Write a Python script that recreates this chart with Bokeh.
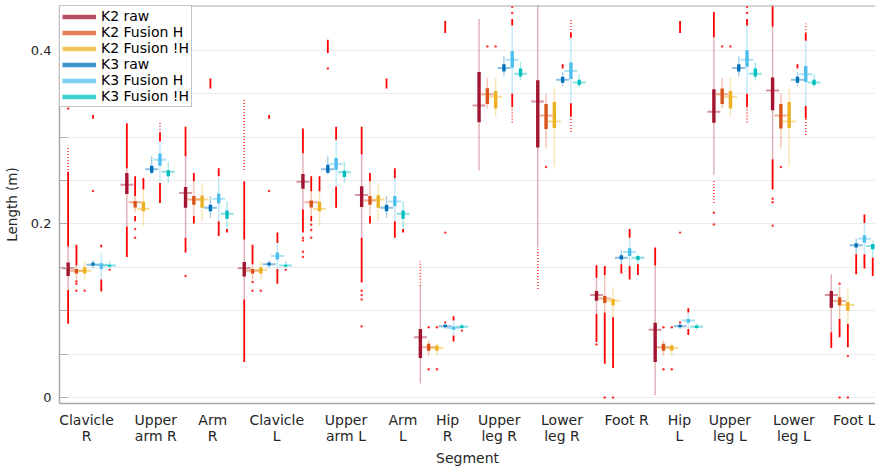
from bokeh.plotting import figure
from bokeh.models import FixedTicker, Range1d, Legend, LegendItem, Span
from bokeh.embed import file_html
from bokeh.resources import INLINE

# ---------------- data ----------------
SEGMENTS = ["Clavicle\nR", "Upper\narm R", "Arm\nR", "Clavicle\nL", "Upper\narm L", "Arm\nL",
            "Hip\nR", "Upper\nleg R", "Lower\nleg R", "Foot R", "Hip\nL", "Upper\nleg L",
            "Lower\nleg L", "Foot L"]
SERIES = ["K2 raw", "K2 Fusion H", "K2 Fusion !H", "K3 raw", "K3 Fusion H", "K3 Fusion !H"]
X_TITLE = "Segment"
Y_TITLE = "Length (m)"

K2_RAW_Q1 = [.140, .2345, .2185, .1394, .2406, .2196, .0455, .317, .288, .1115, .041, .3166, .331, .1035]
K2_RAW_Q3 = [.1555, .2586, .2425, .156, .2575, .2433, .079, .375, .3655, .1226, .086, .355, .3686, .1226]
K2_RAW_MED = [.149, .245, .2357, .149, .2487, .2334, .0695, .3365, .341, .118, .078, .3293, .3537, .118]
K2_RAW_WLO = [.125, .1975, .184, .113, .2166, .184, .016, .2617, .1727, .0963, .0027, .2567, .2746, .0752]
K2_RAW_WHI = [.174, .264, .278, .182, .2815, .28, .1287, .436, .46, .138, .152, .415, .427, .142]

K2_FH_Q1 = [.143, .219, .222, .143, .219, .222, .054, .338, .3094, .109, .054, .338, .31, .106]
K2_FH_Q3 = [.148, .2265, .232, .148, .2269, .232, .062, .3564, .338, .117, .062, .356, .338, .1154]
K2_FH_MED = [.146, .225, .228, .146, .225, .227, .058, .3495, .325, .114, .058, .3495, .325, .1111]
K2_FH_WLO = [.136, .213, .209, .136, .209, .209, .0485, .333, .287, .098, .0485, .333, .287, .0905]
K2_FH_WHI = [.152, .232, .249, .1535, .2376, .249, .0657, .368, .350, .141, .0657, .368, .350, .128]

K2_FNH_Q1 = [.143, .2147, .2185, .143, .2147, .2185, .054, .333, .3105, .106, .054, .333, .3105, .100]
K2_FNH_Q3 = [.150, .2254, .2326, .150, .2254, .233, .060, .353, .3403, .1135, .060, .353, .3403, .110]
K2_FNH_MED = [.146, .2173, .228, .147, .2173, .228, .057, .3465, .318, .1115, .057, .3465, .318, .1066]
K2_FNH_WLO = [.136, .1975, .203, .136, .1975, .203, .0485, .3235, .266, .0924, .0485, .3235, .266, .0848]
K2_FNH_WHI = [.157, .2395, .247, .157, .2376, .247, .062, .368, .356, .127, .062, .368, .356, .125]

K3_RAW_Q1 = [.152, .259, .2147, .152, .259, .2147, .081, .3755, .3625, .159, .081, .3755, .3625, .1727]
K3_RAW_Q3 = [.1555, .267, .222, .1555, .268, .222, .0837, .384, .3694, .164, .0837, .384, .3694, .1776]
K3_RAW_MED = [.153, .263, .2185, .1535, .263, .2185, .0821, .3797, .366, .161, .0821, .3797, .366, .1753]
K3_RAW_WLO = [.1486, .257, .207, .1486, .257, .207, .079, .370, .359, .1535, .079, .370, .359, .165]
K3_RAW_WHI = [.158, .278, .232, .158, .278, .232, .0855, .393, .375, .170, .0855, .393, .375, .183]

K3_FH_Q1 = [.148, .267, .2235, .159, .2624, .2204, .078, .380, .367, .163, .086, .381, .3636, .1784]
K3_FH_Q3 = [.1547, .281, .235, .167, .276, .232, .0817, .399, .386, .172, .0905, .400, .382, .1868]
K3_FH_MED = [.1528, .274, .229, .163, .269, .2257, .0798, .389, .376, .1677, .0886, .389, .3724, .183]
K3_FH_WLO = [.136, .247, .203, .148, .243, .203, .0714, .350, .339, .1516, .079, .350, .3357, .165]
K3_FH_WHI = [.167, .295, .253, .178, .297, .2525, .0886, .4286, .4145, .184, .098, .4286, .411, .201]

K3_FNH_Q1 = [.151, .2548, .206, .151, .254, .206, .080, .3698, .360, .1585, .080, .3698, .360, .1707]
K3_FNH_Q3 = [.153, .2617, .2154, .153, .2613, .2154, .083, .379, .366, .163, .083, .379, .366, .1769]
K3_FNH_MED = [.152, .26, .2116, .152, .2594, .2116, .0814, .373, .363, .161, .0814, .373, .363, .1746]
K3_FNH_WLO = [.147, .247, .194, .147, .247, .194, .078, .3655, .357, .1535, .078, .3655, .357, .161]
K3_FNH_WHI = [.157, .272, .226, .157, .272, .226, .085, .3866, .3724, .165, .085, .3866, .3724, .181]

# outliers: dense runs (group, lo, hi), sparse runs (group, lo, hi), single points (group, value)
K2_RAW_DENSE = [(1, .174, .26), (1, .085, .124), (2, .264, .316), (2, .162, .197), (3, .278, .312),
                (3, .167, .184), (4, .182, .249), (4, .041, .113), (5, .2815, .310), (5, .19, .2166),
                (6, .28, .312), (6, .1325, .184), (10, .138, .1524), (10, .064, .0963), (11, .152, .1727),
                (12, .415, .444), (13, .427, .452), (13, .2395, .2746), (14, .057, .0752)]
K2_RAW_SPARSE = [(1, .262, .29), (4, .262, .343), (7, .1287, .157), (9, .125, .1707), (12, .224, .251)]
K2_RAW_DOTS = [(1, .333), (1, .336), (3, .140), (5, .184), (5, .181), (5, .168), (5, .162), (6, .123),
               (6, .118), (6, .113), (6, .082), (12, .2128), (12, .1994), (13, .229), (13, .225),
               (13, .198), (10, .061)]

K2_FH_DENSE = [(1, .152, .176), (2, .232, .255), (2, .203, .209), (3, .249, .2586), (3, .2005, .209),
               (4, .1535, .176), (5, .2376, .255), (5, .203, .209), (6, .249, .2586), (6, .2005, .209),
               (10, .141, .1516), (10, .039, .098), (14, .0695, .0905)]
K2_FH_SPARSE = []
K2_FH_DOTS = [(1, .134), (1, .131), (1, .123), (2, .194), (2, .184), (4, .133), (4, .123), (5, .199),
              (5, .193), (5, .184), (7, .081), (7, .0325), (8, .4045), (9, .2655), (10, 0.0), (11, .081),
              (11, .0325), (12, .4045), (13, .2655), (14, .131), (14, 0.0)]

K2_FNH_DENSE = [(2, .2395, .253), (5, .2376, .255), (10, .034, .0924), (14, .058, .0848)]
K2_FNH_SPARSE = []
K2_FNH_DOTS = [(1, .123), (4, .123), (7, .081), (7, .0325), (8, .4045), (10, 0.0), (11, .081),
               (11, .0325), (12, .4045), (14, .0477), (14, 0.0)]

K3_RAW_DENSE = [(1, .321, .3255), (3, .356, .3675), (4, .321, .3255), (5, .397, .412), (6, .356, .3675),
                (7, .42, .4336), (7, .0855, .0875), (9, .379, .384), (10, .143, .1535), (11, .42, .4336),
                (11, .0855, .0875), (13, .379, .384), (14, .142, .165)]
K3_RAW_SPARSE = []
K3_RAW_DOTS = [(1, .238), (4, .238), (5, .379), (7, .19), (11, .19)]

K3_FH_DENSE = [(1, .173, .176), (1, .122, .136), (2, .295, .305), (2, .224, .247), (3, .255, .264),
               (3, .186, .203), (4, .178, .19), (4, .131, .148), (5, .297, .312), (5, .2185, .243),
               (6, .2525, .264), (6, .184, .203), (7, .0886, .0936), (7, .0646, .0714), (8, .4286, .436),
               (8, .335, .350), (9, .4145, .42), (9, .3235, .339), (10, .184, .194), (10, .136, .1516),
               (11, .098, .1027), (11, .072, .079), (12, .4286, .436), (12, .335, .350), (13, .411, .4195),
               (13, .3215, .3357), (14, .201, .2108), (14, .1486, .165)]
K3_FH_SPARSE = [(2, .305, .318), (8, .3167, .335), (9, .42, .435), (9, .306, .3235), (12, .3167, .335),
                (13, .4195, .431), (13, .3025, .3215)]
K3_FH_DOTS = [(8, .443), (8, .45), (12, .443), (12, .45)]

K3_FNH_DENSE = [(1, .146, .148), (3, .19, .194), (4, .146, .148), (6, .19, .194), (7, .076, .078),
                (10, .141, .1535), (14, .140, .161)]
K3_FNH_SPARSE = []
K3_FNH_DOTS = []

Y_TICKS = [0, 0.05, 0.1, 0.15, 0.2, 0.25, 0.3, 0.35, 0.4]
Y_LABELS = {0: "0", 0.2: "0.2", 0.4: "0.4"}

# ---------------- layout / style ----------------
COLORS = ["#A2142F", "#D95319", "#EDB120", "#0072BD", "#4DBEEE", "#00BFBF"]
LABEL_X = [0.96, 2.14, 3.11, 4.20, 5.38, 6.35, 7.11, 7.99, 9.06, 10.16, 11.06, 11.92, 13.01, 14.05]
DODGE = 0.1412
FONT = "DejaVu Sans"
AXIS_GRAY = "#a9a9a9"
TEXT = "#262626"

STATS = [
    (K2_RAW_Q1, K2_RAW_Q3, K2_RAW_MED, K2_RAW_WLO, K2_RAW_WHI, K2_RAW_DENSE, K2_RAW_SPARSE, K2_RAW_DOTS),
    (K2_FH_Q1, K2_FH_Q3, K2_FH_MED, K2_FH_WLO, K2_FH_WHI, K2_FH_DENSE, K2_FH_SPARSE, K2_FH_DOTS),
    (K2_FNH_Q1, K2_FNH_Q3, K2_FNH_MED, K2_FNH_WLO, K2_FNH_WHI, K2_FNH_DENSE, K2_FNH_SPARSE, K2_FNH_DOTS),
    (K3_RAW_Q1, K3_RAW_Q3, K3_RAW_MED, K3_RAW_WLO, K3_RAW_WHI, K3_RAW_DENSE, K3_RAW_SPARSE, K3_RAW_DOTS),
    (K3_FH_Q1, K3_FH_Q3, K3_FH_MED, K3_FH_WLO, K3_FH_WHI, K3_FH_DENSE, K3_FH_SPARSE, K3_FH_DOTS),
    (K3_FNH_Q1, K3_FNH_Q3, K3_FNH_MED, K3_FNH_WLO, K3_FNH_WHI, K3_FNH_DENSE, K3_FNH_SPARSE, K3_FNH_DOTS),
]

y_top = 0.4516
y_bot = -0.0069
p = figure(width=875, height=468, x_range=Range1d(0.5, 14.40), y_range=Range1d(y_bot, y_top),
           output_backend="svg", toolbar_location=None,
           min_border_left=55, min_border_right=0, min_border_top=5, min_border_bottom=63)
p.outline_line_color = None
p.background_fill_color = "white"
p.border_fill_color = "white"
p.xgrid.visible = False
p.ygrid.ticker = FixedTicker(ticks=Y_TICKS)
p.ygrid.grid_line_color = "#ebebeb"
p.ygrid.grid_line_width = 1

# y axis
ya = p.yaxis[0]
ya.ticker = FixedTicker(ticks=Y_TICKS)
ya.major_label_overrides = {t: Y_LABELS.get(t, "") for t in Y_TICKS}
ya.major_tick_in = 8
ya.major_tick_out = 0
ya.minor_tick_in = 0
ya.minor_tick_out = 0
ya.major_tick_line_color = AXIS_GRAY
ya.axis_line_color = AXIS_GRAY
ya.axis_line_width = 1.5
ya.major_label_text_font = FONT
ya.major_label_text_font_size = "13px"
ya.major_label_text_color = TEXT
ya.major_label_standoff = 8
ya.axis_label = Y_TITLE
ya.axis_label_text_font = FONT
ya.axis_label_text_font_size = "13.5px"
ya.axis_label_text_font_style = "normal"
ya.axis_label_text_color = TEXT
ya.axis_label_standoff = 8

# x axis
xa = p.xaxis[0]
xa.ticker = FixedTicker(ticks=LABEL_X)
xa.major_label_overrides = {x: s for x, s in zip(LABEL_X, SEGMENTS)}
xa.major_tick_in = 0
xa.major_tick_out = 0
xa.minor_tick_in = 0
xa.minor_tick_out = 0
xa.axis_line_color = AXIS_GRAY
xa.axis_line_width = 1.5
xa.major_label_text_font = FONT
xa.major_label_text_font_size = "14px"
xa.major_label_text_line_height = 1.0
xa.major_label_text_color = TEXT
xa.major_label_standoff = 8
xa.axis_label = X_TITLE
xa.axis_label_text_font = FONT
xa.axis_label_text_font_size = "14px"
xa.axis_label_text_line_height = 1.0
xa.axis_label_text_font_style = "normal"
xa.axis_label_text_color = TEXT
xa.axis_label_standoff = 3

# top border
p.add_layout(Span(location=y_top, dimension="width", line_color=AXIS_GRAY, line_width=2))

groups = list(range(1, len(SEGMENTS) + 1))
for k, (q1, q3, med, wlo, whi, dense, sparse, dots) in enumerate(STATS):
    off = (k - 2.5) * DODGE
    xs = [g + off for g in groups]
    p.segment(x0=xs, y0=wlo, x1=xs, y1=whi, line_color=COLORS[k], line_alpha=0.35, line_width=1.4)

for k, (q1, q3, med, wlo, whi, dense, sparse, dots) in enumerate(STATS):
    off = (k - 2.5) * DODGE
    if dense:
        dx = [g + off for g, lo, hi in dense]
        p.segment(x0=dx, y0=[lo for g, lo, hi in dense], x1=dx, y1=[hi for g, lo, hi in dense],
                  line_color="#FF0000", line_width=1.8)
    if sparse:
        sx = [g + off for g, lo, hi in sparse]
        p.segment(x0=sx, y0=[lo for g, lo, hi in sparse], x1=sx, y1=[hi for g, lo, hi in sparse],
                  line_color="#FF0000", line_width=1.6, line_dash="1 2", line_alpha=0.8)
    if dots:
        p.scatter(x=[g + off for g, v in dots], y=[v for g, v in dots], size=2.4,
                  marker="circle", fill_color="#FF0000", line_color=None, fill_alpha=0.8)

for k, (q1, q3, med, wlo, whi, dense, sparse, dots) in enumerate(STATS):
    off = (k - 2.5) * DODGE
    xs = [g + off for g in groups]
    p.segment(x0=xs, y0=q1, x1=xs, y1=q3, line_color=COLORS[k], line_width=3.4)
    p.scatter(x=xs, y=med, marker="dash", size=13, line_color=COLORS[k], line_alpha=0.45, line_width=2)

# legend (proxy lines kept outside the visible ranges)
items = []
for k, name in enumerate(SERIES):
    r = p.line(x=[-5, -4], y=[-5, -5], line_color=COLORS[k], line_alpha=0.75, line_width=4.5)
    items.append(LegendItem(label=name, renderers=[r]))
legend = Legend(items=items, location="top_left", margin=0, padding=2, spacing=0,
                label_height=15, glyph_height=15, glyph_width=34, label_standoff=5,
                label_text_font=FONT, label_text_font_size="14px", label_text_color="black",
                border_line_color="#8c8c8c", border_line_width=1.5, background_fill_alpha=1,
                label_text_line_height=1.0)
p.add_layout(legend)

open("out.html", "w").write(file_html(p, INLINE))
